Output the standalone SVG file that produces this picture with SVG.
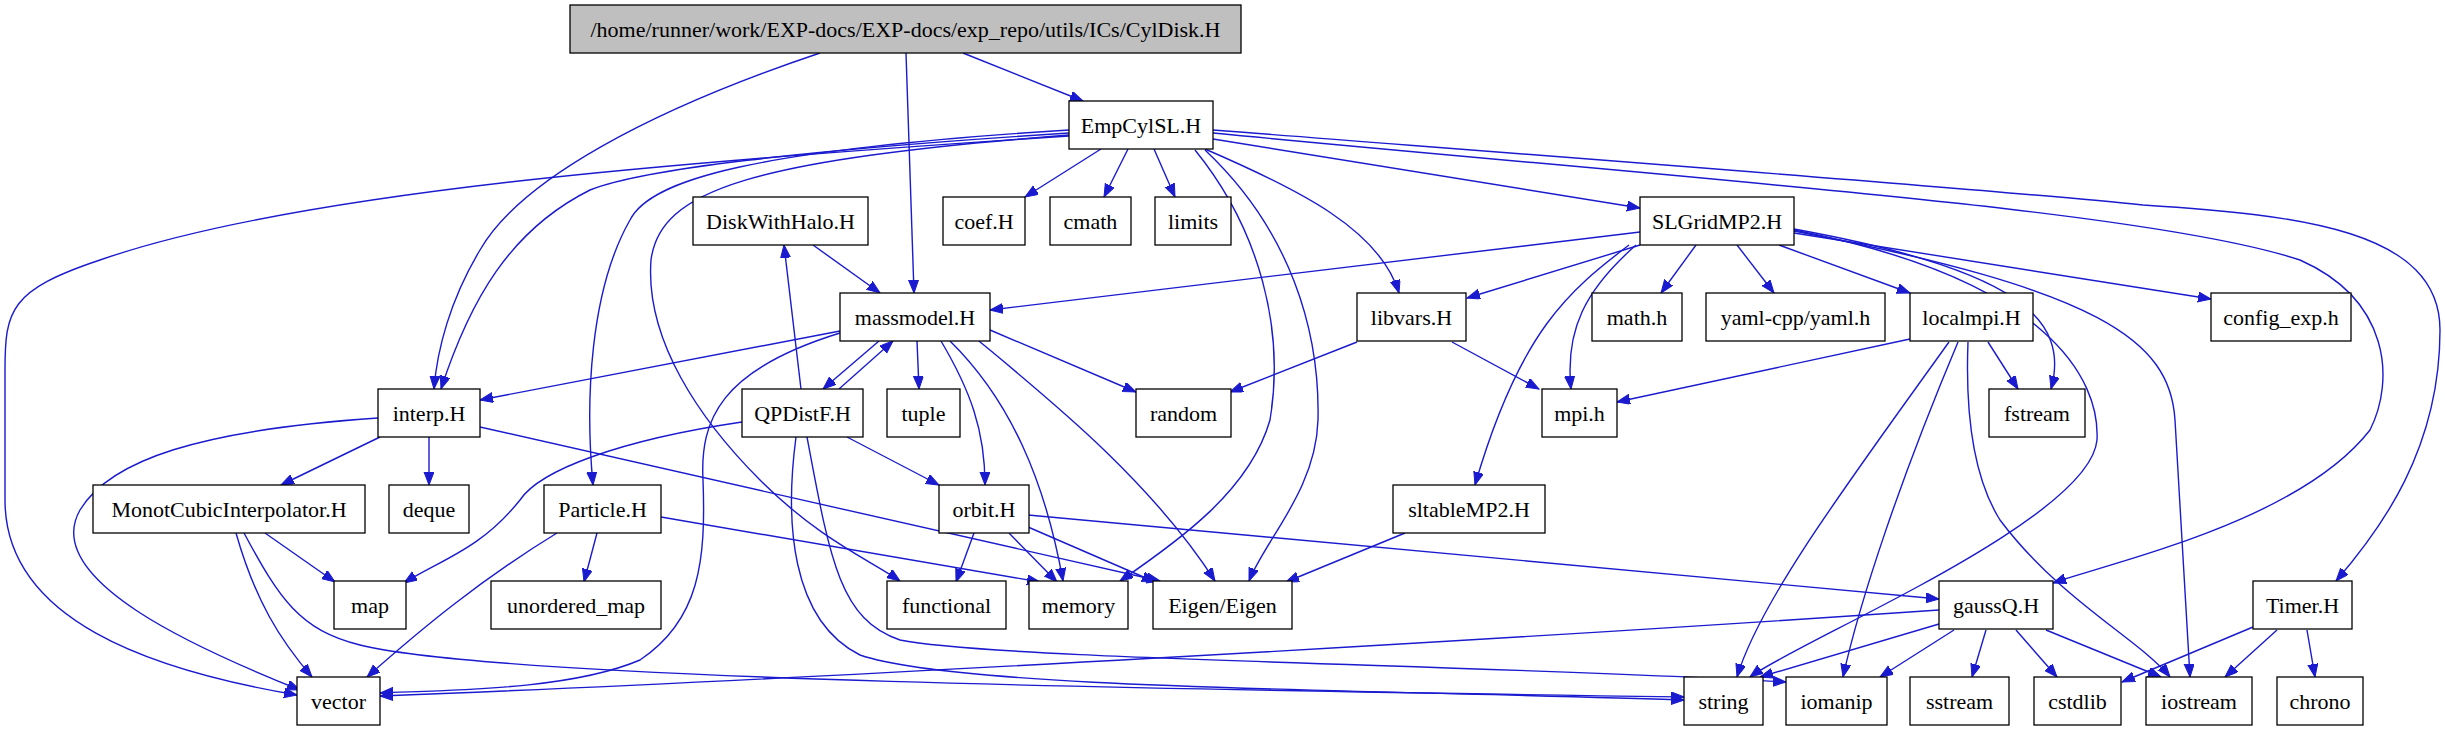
<svg xmlns="http://www.w3.org/2000/svg" width="2445" height="731" viewBox="0 0 2445 731">
<style>
.n rect{fill:#fff;stroke:#000;stroke-width:1.3}
.n text{font-family:"Liberation Serif",serif;font-size:22px;text-anchor:middle;fill:#000}
#e path{fill:none;stroke:#1a1acf;stroke-width:1.4;marker-end:url(#a)}
</style>
<defs><marker id="a" markerUnits="userSpaceOnUse" markerWidth="14" markerHeight="12" refX="13" refY="5" orient="auto"><path d="M0,0 L13,5 L0,10 Z" fill="#1a1acf" stroke="#1a1acf"/></marker></defs>
<rect width="2445" height="731" fill="#fff"/>
<g id="e">
<path d="M963,53 L1083,101"/>
<path d="M906,53 L914,293"/>
<path d="M820,53 C650,110 520,180 480,250 C450,300 437,350 434,389"/>
<path d="M1101,149 L1025,197"/>
<path d="M1128,149 L1104,197"/>
<path d="M1154,149 L1175,197"/>
<path d="M1213,139 L1640,208"/>
<path d="M1205,149 C1300,190 1380,230 1399,293"/>
<path d="M1195,150 C1260,230 1285,330 1270,420 C1250,490 1180,540 1120,581"/>
<path d="M1205,150 C1290,230 1320,330 1318,420 C1316,490 1265,540 1249,581"/>
<path d="M1213,133 C1700,180 2150,210 2300,260 C2390,300 2395,380 2370,430 C2300,520 2120,560 2053,583"/>
<path d="M1213,130 C1600,160 2000,190 2143,205 C2300,215 2440,230 2440,330 C2440,450 2380,530 2336,581"/>
<path d="M1069,136 C700,160 300,190 100,260 C10,290 5,310 5,370 L5,500 C5,620 150,670 297,695"/>
<path d="M1069,133 C800,150 640,170 590,190 C510,230 470,300 441,389"/>
<path d="M1069,130 C750,150 650,180 630,220 C590,290 585,400 593,485"/>
<path d="M1069,135 C750,160 660,190 651,260 C645,340 700,420 760,480 C820,540 870,560 900,581"/>
<path d="M813,245 L880,293"/>
<path d="M801,389 L784,245"/>
<path d="M879,341 L823,389"/>
<path d="M839,389 L893,341"/>
<path d="M840,331 L480,400"/>
<path d="M840,333 C720,370 700,420 703,480 C706,560 700,620 640,660 C570,690 450,690 380,693"/>
<path d="M917,341 L919,389"/>
<path d="M941,341 C970,390 985,430 985,485"/>
<path d="M950,341 C1010,400 1045,480 1063,581"/>
<path d="M979,341 C1050,400 1150,480 1215,581"/>
<path d="M990,330 L1136,392"/>
<path d="M742,422 C620,440 540,470 520,500 C480,550 440,560 404,583"/>
<path d="M847,437 L939,485"/>
<path d="M796,437 C785,520 790,620 860,655 C960,690 1400,690 1684,700"/>
<path d="M807,437 C830,560 840,620 900,640 C1000,660 1500,665 1786,682"/>
<path d="M378,418 C200,430 110,460 80,510 C40,580 200,650 300,690"/>
<path d="M380,437 L281,485"/>
<path d="M429,437 L429,485"/>
<path d="M480,427 L1160,581"/>
<path d="M265,533 L335,582"/>
<path d="M236,533 C255,600 280,640 312,677"/>
<path d="M244,533 C280,600 300,630 360,645 C500,680 1200,690 1684,697"/>
<path d="M597,533 L584,582"/>
<path d="M557,533 C480,580 420,630 367,677"/>
<path d="M661,517 L1040,582"/>
<path d="M974,533 L956,582"/>
<path d="M1009,533 L1057,582"/>
<path d="M1028,527 L1155,582"/>
<path d="M1028,515 L1939,599"/>
<path d="M1640,232 L990,310"/>
<path d="M1640,245 L1467,298"/>
<path d="M1636,245 C1585,290 1565,330 1571,389"/>
<path d="M1629,245 C1570,290 1520,330 1475,485"/>
<path d="M1696,245 L1661,293"/>
<path d="M1737,245 L1774,293"/>
<path d="M1779,245 L1910,293"/>
<path d="M1794,233 L2211,299"/>
<path d="M1794,229 C2020,270 2070,320 2051,389"/>
<path d="M1794,230 C2050,280 2100,380 2097,440 C2090,520 1800,640 1750,677"/>
<path d="M1794,231 C2100,290 2170,340 2175,420 L2190,677"/>
<path d="M1357,342 L1230,392"/>
<path d="M1452,342 L1539,389"/>
<path d="M1910,339 L1617,402"/>
<path d="M1988,342 L2018,389"/>
<path d="M1949,342 C1850,480 1760,600 1737,677"/>
<path d="M1958,342 C1900,480 1860,600 1843,677"/>
<path d="M1968,342 C1965,420 1975,480 2000,520 C2060,600 2140,640 2170,677"/>
<path d="M1405,533 L1286,582"/>
<path d="M1939,610 C1500,640 800,680 380,696"/>
<path d="M1939,624 L1760,677"/>
<path d="M1954,630 L1880,677"/>
<path d="M1986,630 L1972,677"/>
<path d="M2016,630 L2057,677"/>
<path d="M2046,630 L2161,677"/>
<path d="M2253,627 L2122,682"/>
<path d="M2277,630 L2225,677"/>
<path d="M2307,630 L2315,677"/>
</g>
<g id="root" class="n"><rect x="570" y="5" width="671" height="48" style="fill:#bfbfbf"/><text x="905.5" y="37">/home/runner/work/EXP-docs/EXP-docs/exp_repo/utils/ICs/CylDisk.H</text></g>
<g id="EmpCylSL" class="n"><rect x="1069" y="101" width="144" height="48"/><text x="1141" y="133">EmpCylSL.H</text></g>
<g id="DiskWithHalo" class="n"><rect x="693" y="197" width="175" height="48"/><text x="780.5" y="229">DiskWithHalo.H</text></g>
<g id="coef" class="n"><rect x="943" y="197" width="82" height="48"/><text x="984" y="229">coef.H</text></g>
<g id="cmath" class="n"><rect x="1050" y="197" width="81" height="48"/><text x="1090.5" y="229">cmath</text></g>
<g id="limits" class="n"><rect x="1155" y="197" width="76" height="48"/><text x="1193" y="229">limits</text></g>
<g id="SLGridMP2" class="n"><rect x="1640" y="197" width="154" height="48"/><text x="1717" y="229">SLGridMP2.H</text></g>
<g id="massmodel" class="n"><rect x="840" y="293" width="150" height="48"/><text x="915" y="325">massmodel.H</text></g>
<g id="libvars" class="n"><rect x="1357" y="293" width="109" height="48"/><text x="1411.5" y="325">libvars.H</text></g>
<g id="mathh" class="n"><rect x="1592" y="293" width="90" height="48"/><text x="1637" y="325">math.h</text></g>
<g id="yaml" class="n"><rect x="1706" y="293" width="179" height="48"/><text x="1795.5" y="325">yaml-cpp/yaml.h</text></g>
<g id="localmpi" class="n"><rect x="1910" y="293" width="123" height="48"/><text x="1971.5" y="325">localmpi.H</text></g>
<g id="config" class="n"><rect x="2211" y="293" width="140" height="48"/><text x="2281" y="325">config_exp.h</text></g>
<g id="interp" class="n"><rect x="378" y="389" width="102" height="48"/><text x="429" y="421">interp.H</text></g>
<g id="QPDistF" class="n"><rect x="742" y="389" width="121" height="48"/><text x="802.5" y="421">QPDistF.H</text></g>
<g id="tuple" class="n"><rect x="887" y="389" width="73" height="48"/><text x="923.5" y="421">tuple</text></g>
<g id="random" class="n"><rect x="1136" y="389" width="95" height="48"/><text x="1183.5" y="421">random</text></g>
<g id="mpih" class="n"><rect x="1542" y="389" width="75" height="48"/><text x="1579.5" y="421">mpi.h</text></g>
<g id="fstream" class="n"><rect x="1989" y="389" width="96" height="48"/><text x="2037" y="421">fstream</text></g>
<g id="Monot" class="n"><rect x="93" y="485" width="272" height="48"/><text x="229" y="517">MonotCubicInterpolator.H</text></g>
<g id="deque" class="n"><rect x="389" y="485" width="80" height="48"/><text x="429" y="517">deque</text></g>
<g id="Particle" class="n"><rect x="544" y="485" width="117" height="48"/><text x="602.5" y="517">Particle.H</text></g>
<g id="orbit" class="n"><rect x="939" y="485" width="90" height="48"/><text x="984" y="517">orbit.H</text></g>
<g id="sltable" class="n"><rect x="1393" y="485" width="152" height="48"/><text x="1469" y="517">sltableMP2.H</text></g>
<g id="map" class="n"><rect x="334" y="581" width="72" height="48"/><text x="370" y="613">map</text></g>
<g id="unordered" class="n"><rect x="491" y="581" width="170" height="48"/><text x="576" y="613">unordered_map</text></g>
<g id="functional" class="n"><rect x="887" y="581" width="119" height="48"/><text x="946.5" y="613">functional</text></g>
<g id="memory" class="n"><rect x="1029" y="581" width="99" height="48"/><text x="1078.5" y="613">memory</text></g>
<g id="Eigen" class="n"><rect x="1153" y="581" width="139" height="48"/><text x="1222.5" y="613">Eigen/Eigen</text></g>
<g id="gaussQ" class="n"><rect x="1939" y="581" width="114" height="48"/><text x="1996" y="613">gaussQ.H</text></g>
<g id="Timer" class="n"><rect x="2253" y="581" width="99" height="48"/><text x="2302.5" y="613">Timer.H</text></g>
<g id="vector" class="n"><rect x="297" y="677" width="83" height="48"/><text x="338.5" y="709">vector</text></g>
<g id="string" class="n"><rect x="1684" y="677" width="79" height="48"/><text x="1723.5" y="709">string</text></g>
<g id="iomanip" class="n"><rect x="1786" y="677" width="101" height="48"/><text x="1836.5" y="709">iomanip</text></g>
<g id="sstream" class="n"><rect x="1910" y="677" width="99" height="48"/><text x="1959.5" y="709">sstream</text></g>
<g id="cstdlib" class="n"><rect x="2034" y="677" width="87" height="48"/><text x="2077.5" y="709">cstdlib</text></g>
<g id="iostream" class="n"><rect x="2146" y="677" width="106" height="48"/><text x="2199" y="709">iostream</text></g>
<g id="chrono" class="n"><rect x="2277" y="677" width="86" height="48"/><text x="2320" y="709">chrono</text></g>
</svg>
